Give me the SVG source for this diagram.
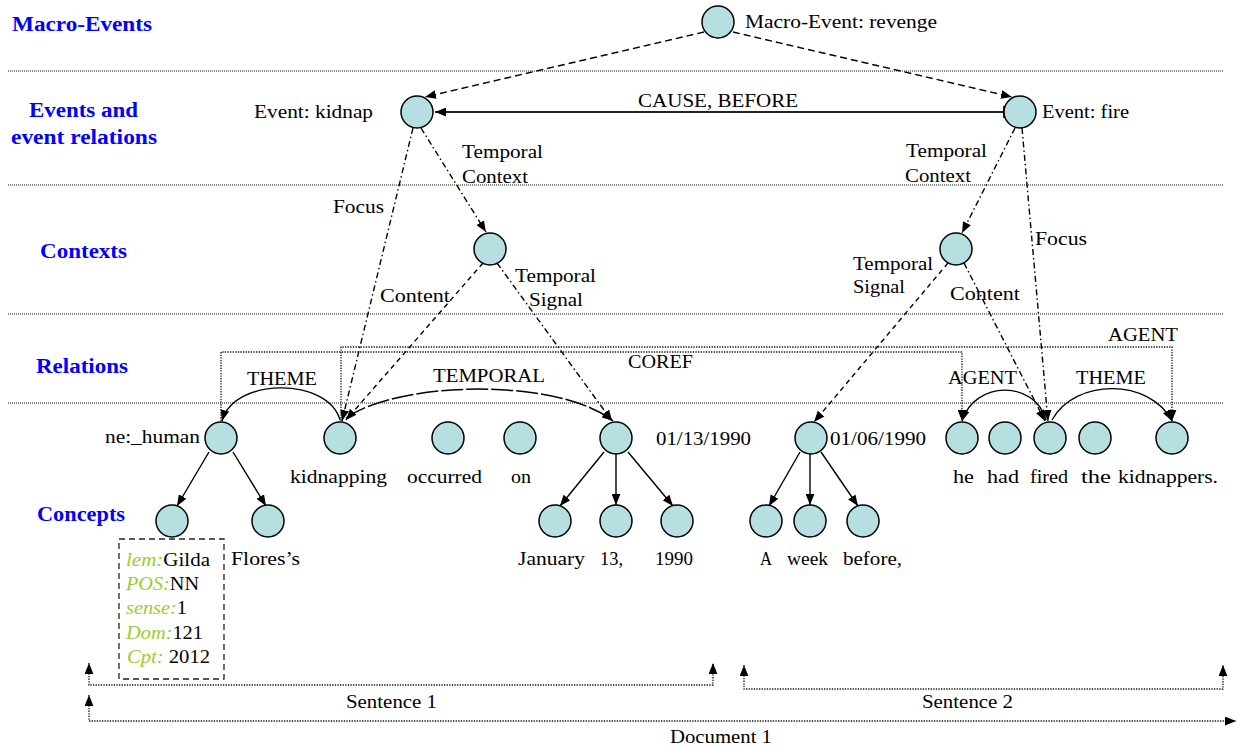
<svg xmlns="http://www.w3.org/2000/svg" width="1241" height="747" viewBox="0 0 1241 747">
  <style>
    text { font-family: "Liberation Serif", "Times New Roman", serif; font-size: 19px; fill: #000; }
    .lane { font-weight: bold; font-size: 20px; fill: #0000ff; }
    .attr { font-style: italic; fill: #9acd32; }
    .node { fill: #b5dfe0; stroke: #000; stroke-width: 1.5; }
    .sep { stroke: #111; stroke-width: 1; stroke-dasharray: 1 1; fill: none; }
    .dot { stroke: #111; stroke-width: 1.3; stroke-dasharray: 1.3 1.3; fill: none; }
    .dash { stroke: #000; stroke-width: 1.4; stroke-dasharray: 7 4; fill: none; }
    .sdash { stroke: #000; stroke-width: 1.4; stroke-dasharray: 5 4; fill: none; }
    .dashdot { stroke: #000; stroke-width: 1.4; stroke-dasharray: 6 3 1.5 3; fill: none; }
    .solid { stroke: #000; stroke-width: 1.4; fill: none; }
    .longdash { stroke: #000; stroke-width: 1.5; stroke-dasharray: 22 3; fill: none; }
    .cause { stroke: #222; stroke-width: 2; fill: none; }
  </style>
  <defs>
    <marker id="arrow" viewBox="0 0 10 8" refX="10" refY="4" markerWidth="11" markerHeight="9" markerUnits="userSpaceOnUse" orient="auto-start-reverse">
      <path d="M0,0 L10,4 L0,8 z" fill="#000"/>
    </marker>
    <marker id="tick" viewBox="0 0 2 12" refX="1" refY="6" markerWidth="2" markerHeight="12" markerUnits="userSpaceOnUse" orient="auto">
      <rect x="0" y="0" width="2" height="12" fill="#222"/>
    </marker>
  </defs>

  <!-- layer separators -->
  <g id="separators">
    <line class="sep" x1="8" y1="71" x2="1223" y2="71"/>
    <line class="sep" x1="8" y1="185" x2="1223" y2="185"/>
    <line class="sep" x1="8" y1="314" x2="1223" y2="314"/>
    <line class="sep" x1="8" y1="403" x2="1223" y2="403"/>
  </g>

  <!-- layer titles -->
  <g id="lane-titles">
    <text class="lane" x="12" y="31" textLength="140" lengthAdjust="spacingAndGlyphs">Macro-Events</text>
    <text class="lane" x="29" y="117" textLength="109" lengthAdjust="spacingAndGlyphs">Events and</text>
    <text class="lane" x="11" y="144" textLength="146" lengthAdjust="spacingAndGlyphs">event relations</text>
    <text class="lane" x="40" y="258" textLength="87" lengthAdjust="spacingAndGlyphs">Contexts</text>
    <text class="lane" x="36" y="373" textLength="92" lengthAdjust="spacingAndGlyphs">Relations</text>
    <text class="lane" x="37" y="521" textLength="88" lengthAdjust="spacingAndGlyphs">Concepts</text>
  </g>

  <!-- connectors -->
  <g id="connectors">
    <!-- macro-event to events -->
    <path class="dash" d="M704,32 L425,97" marker-end="url(#arrow)"/>
    <path class="dash" d="M733,32 L1012,97" marker-end="url(#arrow)"/>
    <!-- event relation -->
    <path class="cause" d="M1004,112 H435" marker-start="url(#tick)" marker-end="url(#arrow)"/>
    <text x="638" y="107" textLength="160" lengthAdjust="spacingAndGlyphs">CAUSE, BEFORE</text>

    <!-- kidnap event links -->
    <path class="dashdot" d="M421,128 L486,232" marker-end="url(#arrow)"/>
    <text x="462" y="158" textLength="81" lengthAdjust="spacingAndGlyphs">Temporal</text>
    <text x="462" y="183" textLength="66" lengthAdjust="spacingAndGlyphs">Context</text>
    <path class="dashdot" d="M413,128 L342,421" marker-end="url(#arrow)"/>
    <text x="333" y="213" textLength="51" lengthAdjust="spacingAndGlyphs">Focus</text>

    <!-- first context links -->
    <path class="sdash" d="M483,263 L346,420" marker-end="url(#arrow)"/>
    <text x="380" y="302" textLength="70" lengthAdjust="spacingAndGlyphs">Content</text>
    <path class="dashdot" d="M497,263 L612,421" marker-end="url(#arrow)"/>
    <text x="515" y="282" textLength="81" lengthAdjust="spacingAndGlyphs">Temporal</text>
    <text x="529" y="306" textLength="54" lengthAdjust="spacingAndGlyphs">Signal</text>

    <!-- fire event links -->
    <path class="dashdot" d="M1015,128 L962,233" marker-end="url(#arrow)"/>
    <text x="906" y="157" textLength="81" lengthAdjust="spacingAndGlyphs">Temporal</text>
    <text x="905" y="182" textLength="66" lengthAdjust="spacingAndGlyphs">Context</text>
    <path class="dashdot" d="M1022,128 L1048,421" marker-end="url(#arrow)"/>
    <text x="1035" y="245" textLength="52" lengthAdjust="spacingAndGlyphs">Focus</text>

    <!-- second context links -->
    <path class="sdash" d="M948,263 L814,422" marker-end="url(#arrow)"/>
    <text x="853" y="270" textLength="80" lengthAdjust="spacingAndGlyphs">Temporal</text>
    <text x="853" y="293" textLength="52" lengthAdjust="spacingAndGlyphs">Signal</text>
    <path class="dashdot" d="M964,263 L1045,421" marker-end="url(#arrow)"/>
    <text x="950" y="300" textLength="70" lengthAdjust="spacingAndGlyphs">Content</text>

    <!-- relations between concepts -->
    <path class="dot" d="M221,421 V352 H962 V421" marker-end="url(#arrow)"/>
    <text x="628" y="368" textLength="65" lengthAdjust="spacingAndGlyphs">COREF</text>
    <path class="dot" d="M341,421 V347 H1172 V421" marker-end="url(#arrow)"/>
    <text x="1108" y="341" textLength="70" lengthAdjust="spacingAndGlyphs">AGENT</text>

    <path class="solid" d="M340,420 C328,377 234,377 222,421" marker-end="url(#arrow)"/>
    <text x="247" y="385" textLength="70" lengthAdjust="spacingAndGlyphs">THEME</text>
    <path class="longdash" d="M346,418 C400,380 560,378 613,421" marker-end="url(#arrow)"/>
    <text x="433" y="382" textLength="112" lengthAdjust="spacingAndGlyphs">TEMPORAL</text>
    <path class="solid" d="M1046,420 C1035,380 975,380 962,421" marker-end="url(#arrow)"/>
    <text x="948" y="384" textLength="69" lengthAdjust="spacingAndGlyphs">AGENT</text>
    <path class="solid" d="M1052,420 C1075,378 1150,378 1172,421" marker-end="url(#arrow)"/>
    <text x="1076" y="384" textLength="70" lengthAdjust="spacingAndGlyphs">THEME</text>

    <!-- concept decomposition -->
    <path class="solid" d="M209,452 L177,506" marker-end="url(#arrow)"/>
    <path class="solid" d="M233,452 L266,506" marker-end="url(#arrow)"/>
    <path class="solid" d="M604,452 L560,506" marker-end="url(#arrow)"/>
    <path class="solid" d="M616,454 V505" marker-end="url(#arrow)"/>
    <path class="solid" d="M628,452 L673,506" marker-end="url(#arrow)"/>
    <path class="solid" d="M800,452 L769,506" marker-end="url(#arrow)"/>
    <path class="solid" d="M810,454 V505" marker-end="url(#arrow)"/>
    <path class="solid" d="M821,452 L858,506" marker-end="url(#arrow)"/>

    <!-- text spans -->
    <path class="dot" d="M89,663 V685 H713 V663" marker-start="url(#arrow)" marker-end="url(#arrow)"/>
    <text x="346" y="708" textLength="91" lengthAdjust="spacingAndGlyphs">Sentence 1</text>
    <path class="dot" d="M744,665 V689 H1223 V665" marker-start="url(#arrow)" marker-end="url(#arrow)"/>
    <text x="922" y="708" textLength="91" lengthAdjust="spacingAndGlyphs">Sentence 2</text>
    <path class="dot" d="M89,695 V721 H1236" marker-start="url(#arrow)" marker-end="url(#arrow)"/>
    <text x="670" y="743" textLength="102" lengthAdjust="spacingAndGlyphs">Document 1</text>
  </g>

  <!-- macro-event -->
  <g id="macro-revenge">
    <circle class="node" cx="718" cy="22" r="16"/>
    <text x="745" y="28" textLength="192" lengthAdjust="spacingAndGlyphs">Macro-Event: revenge</text>
  </g>

  <!-- events -->
  <g id="event-kidnap">
    <circle class="node" cx="417" cy="112" r="16"/>
    <text x="254" y="118" textLength="119" lengthAdjust="spacingAndGlyphs">Event: kidnap</text>
  </g>
  <g id="event-fire">
    <circle class="node" cx="1020" cy="112" r="16"/>
    <text x="1042" y="118" textLength="87" lengthAdjust="spacingAndGlyphs">Event: fire</text>
  </g>

  <!-- contexts -->
  <g id="context-kidnap"><circle class="node" cx="490" cy="249" r="16"/></g>
  <g id="context-fire"><circle class="node" cx="956" cy="249" r="16"/></g>

  <!-- sentence 1 concepts -->
  <g id="ne-human">
    <circle class="node" cx="221" cy="438" r="16"/>
    <text x="105" y="443" textLength="95" lengthAdjust="spacingAndGlyphs">ne:_human</text>
  </g>
  <g id="gilda">
    <circle class="node" cx="172" cy="521" r="16"/>
    <rect x="119" y="539" width="105" height="140" fill="none" stroke="#222" stroke-width="1.3" stroke-dasharray="6 4"/>
    <text x="126" y="566" textLength="84" lengthAdjust="spacingAndGlyphs"><tspan class="attr">lem:</tspan>Gilda</text>
    <text x="126" y="590" textLength="73" lengthAdjust="spacingAndGlyphs"><tspan class="attr">POS:</tspan>NN</text>
    <text x="126" y="614" textLength="61" lengthAdjust="spacingAndGlyphs"><tspan class="attr">sense:</tspan>1</text>
    <text x="126" y="639" textLength="77" lengthAdjust="spacingAndGlyphs"><tspan class="attr">Dom:</tspan>121</text>
    <text x="127" y="663" textLength="83" lengthAdjust="spacingAndGlyphs"><tspan class="attr">Cpt:</tspan> 2012</text>
  </g>
  <g id="flores">
    <circle class="node" cx="268" cy="521" r="16"/>
    <text x="231" y="565" textLength="69" lengthAdjust="spacingAndGlyphs">Flores’s</text>
  </g>
  <g id="kidnapping">
    <circle class="node" cx="340" cy="438" r="16"/>
    <text x="290" y="483" textLength="97" lengthAdjust="spacingAndGlyphs">kidnapping</text>
  </g>
  <g id="occurred">
    <circle class="node" cx="448" cy="438" r="16"/>
    <text x="407" y="483" textLength="75" lengthAdjust="spacingAndGlyphs">occurred</text>
  </g>
  <g id="on">
    <circle class="node" cx="520" cy="438" r="16"/>
    <text x="511" y="483" textLength="20" lengthAdjust="spacingAndGlyphs">on</text>
  </g>
  <g id="date-0113">
    <circle class="node" cx="616" cy="438" r="16"/>
    <text x="656" y="445" textLength="95" lengthAdjust="spacingAndGlyphs">01/13/1990</text>
  </g>
  <g id="january">
    <circle class="node" cx="555" cy="521" r="16"/>
    <text x="518" y="565" textLength="67" lengthAdjust="spacingAndGlyphs">January</text>
  </g>
  <g id="day-13">
    <circle class="node" cx="616" cy="521" r="16"/>
    <text x="600" y="565" textLength="23" lengthAdjust="spacingAndGlyphs">13,</text>
  </g>
  <g id="year-1990">
    <circle class="node" cx="677" cy="521" r="16"/>
    <text x="655" y="565" textLength="38" lengthAdjust="spacingAndGlyphs">1990</text>
  </g>

  <!-- sentence 2 concepts -->
  <g id="date-0106">
    <circle class="node" cx="811" cy="438" r="16"/>
    <text x="830" y="445" textLength="96" lengthAdjust="spacingAndGlyphs">01/06/1990</text>
  </g>
  <g id="a">
    <circle class="node" cx="766" cy="521" r="16"/>
    <text x="760" y="565" textLength="12" lengthAdjust="spacingAndGlyphs">A</text>
  </g>
  <g id="week">
    <circle class="node" cx="810" cy="521" r="16"/>
    <text x="787" y="565" textLength="41" lengthAdjust="spacingAndGlyphs">week</text>
  </g>
  <g id="before">
    <circle class="node" cx="863" cy="521" r="16"/>
    <text x="843" y="565" textLength="59" lengthAdjust="spacingAndGlyphs">before,</text>
  </g>
  <g id="he">
    <circle class="node" cx="962" cy="438" r="16"/>
    <text x="953" y="483" textLength="21" lengthAdjust="spacingAndGlyphs">he</text>
  </g>
  <g id="had">
    <circle class="node" cx="1005" cy="438" r="16"/>
    <text x="987" y="483" textLength="32" lengthAdjust="spacingAndGlyphs">had</text>
  </g>
  <g id="fired">
    <circle class="node" cx="1050" cy="438" r="16"/>
    <text x="1030" y="483" textLength="38" lengthAdjust="spacingAndGlyphs">fired</text>
  </g>
  <g id="the">
    <circle class="node" cx="1095" cy="438" r="16"/>
    <text x="1081" y="483" textLength="30" lengthAdjust="spacingAndGlyphs">the</text>
  </g>
  <g id="kidnappers">
    <circle class="node" cx="1172" cy="438" r="16"/>
    <text x="1118" y="483" textLength="100" lengthAdjust="spacingAndGlyphs">kidnappers.</text>
  </g>
</svg>
